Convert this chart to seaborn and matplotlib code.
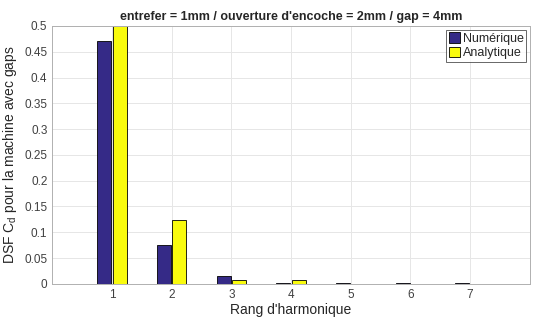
import matplotlib
matplotlib.use("Agg")
import matplotlib.pyplot as plt
import seaborn as sns
import pandas as pd

# harmonic ranks and DSF values
rangs = [1, 2, 3, 4, 5, 6, 7]
numerique = [0.471, 0.076, 0.0155, 0.0025, 0.0008, 0.0012, 0.0018]
analytique = [0.5, 0.123, 0.0075, 0.0075, 0.0002, 0.0001, 0.0001]

df = pd.DataFrame({
    "rang": rangs * 2,
    "dsf": numerique + analytique,
    "type": ["Numérique"] * len(rangs) + ["Analytique"] * len(rangs),
})

sns.set_style("whitegrid")
plt.rcParams['font.family'] = ['Liberation Sans', 'DejaVu Sans']

fig = plt.figure(figsize=(5.39, 3.2), dpi=100)
ax = fig.add_axes([0.097, 0.113, 0.886, 0.806])

sns.barplot(data=df, x="rang", y="dsf", hue="type", native_scale=True,
            palette=["#352A87", "#F9FB0E"], saturation=1, width=0.52, gap=0.1,
            edgecolor="black", linewidth=0.6, ax=ax)

ax.set_xlim(0, 8)
ax.set_ylim(0, 0.5)
ax.set_xticks(rangs)
ax.set_yticks([0, 0.05, 0.1, 0.15, 0.2, 0.25, 0.3, 0.35, 0.4, 0.45, 0.5])
ax.set_yticklabels(["0", "0.05", "0.1", "0.15", "0.2", "0.25", "0.3", "0.35", "0.4", "0.45", "0.5"])
ax.grid(True, color="#e6e6e6", linewidth=0.7)
ax.set_axisbelow(True)
ax.tick_params(labelsize=8.5, colors="#404040", direction="in", length=3)
for s in ax.spines.values():
    s.set_color("#b0b0b0")
    s.set_linewidth(0.7)

ax.set_xlabel("Rang d'harmonique", fontsize=10, color="#262626", labelpad=2)
ax.set_ylabel("DSF $\\mathregular{C_d}$ pour la machine avec gaps", fontsize=10, color="#262626", labelpad=4)
ax.set_title("entrefer = 1mm / ouverture d'encoche = 2mm / gap = 4mm",
             fontsize=9, fontweight="bold", pad=4)

leg = ax.legend(loc="upper right", fontsize=9, frameon=True, fancybox=False,
                handlelength=0.9, handleheight=0.9, handletextpad=0.2,
                borderpad=0.2, labelspacing=0.15, borderaxespad=0.3)
leg.get_frame().set_edgecolor("#404040")
leg.get_frame().set_linewidth(0.7)

fig.savefig("out.png", dpi=100)
